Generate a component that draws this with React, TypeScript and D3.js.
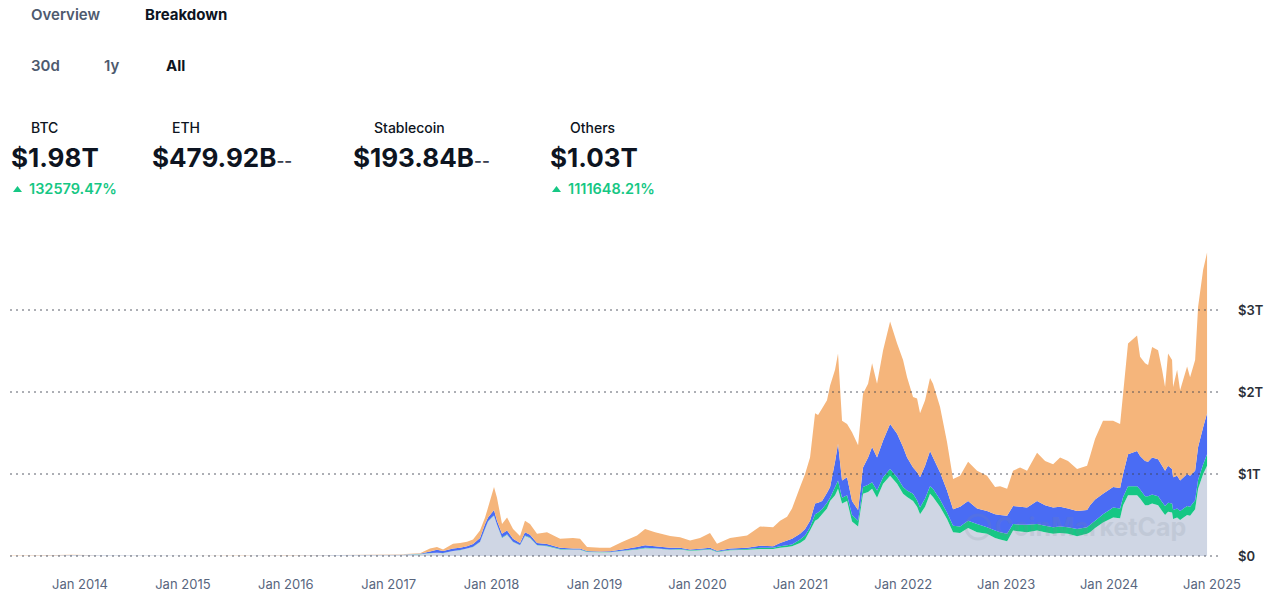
import React from 'react';
import * as d3 from 'd3';

// decimal years of each sample
const years = [
  2013.32, 2013.92, 2014.2, 2014.7, 2015.1, 2015.6, 2016.0, 2016.5, 2016.95,
  2017.110, 2017.304, 2017.401, 2017.469, 2017.528, 2017.625, 2017.693, 2017.761, 2017.819, 2017.887,
  2017.936, 2017.965, 2018.004, 2018.023, 2018.052, 2018.101, 2018.150, 2018.208, 2018.276, 2018.324,
  2018.373, 2018.441, 2018.538, 2018.665, 2018.791, 2018.859, 2018.927, 2019.053, 2019.151, 2019.267,
  2019.413, 2019.491, 2019.588, 2019.734, 2019.831, 2019.928, 2020.025, 2020.122, 2020.190, 2020.317,
  2020.482, 2020.608, 2020.735, 2020.803, 2020.871, 2020.919, 2020.997, 2021.046, 2021.094, 2021.143,
  2021.172, 2021.211, 2021.259, 2021.289, 2021.337, 2021.366, 2021.405, 2021.454, 2021.502, 2021.561,
  2021.609, 2021.658, 2021.697, 2021.745, 2021.804, 2021.872, 2021.940, 2021.998, 2022.037, 2022.095,
  2022.134, 2022.163, 2022.212, 2022.260, 2022.289, 2022.357, 2022.425, 2022.484, 2022.552, 2022.630,
  2022.717, 2022.814, 2022.892, 2022.941, 2023.009, 2023.067, 2023.135, 2023.203, 2023.300, 2023.378,
  2023.456, 2023.524, 2023.601, 2023.689, 2023.786, 2023.815, 2023.864, 2023.941, 2024.039, 2024.107,
  2024.136, 2024.184, 2024.272, 2024.301, 2024.350, 2024.379, 2024.418, 2024.476, 2024.515, 2024.544,
  2024.573, 2024.612, 2024.622, 2024.661, 2024.690, 2024.758, 2024.787, 2024.836, 2024.865, 2024.914,
  2024.952,
];

// values in trillions of USD
const btc = [
  0.0015, 0.013, 0.008, 0.006, 0.003, 0.004, 0.0066, 0.011, 0.0155,
  0.017, 0.022, 0.035, 0.04, 0.035, 0.06, 0.07, 0.09, 0.11, 0.17,
  0.33, 0.42, 0.47, 0.49, 0.38, 0.22, 0.26, 0.17, 0.13, 0.245,
  0.22, 0.13, 0.12, 0.08, 0.075, 0.075, 0.05, 0.045, 0.045, 0.06,
  0.08, 0.095, 0.09, 0.075, 0.08, 0.065, 0.07, 0.08, 0.05, 0.07,
  0.075, 0.085, 0.085, 0.1, 0.11, 0.12, 0.16, 0.2, 0.31, 0.43,
  0.45, 0.51, 0.58, 0.67, 0.74, 0.82, 0.64, 0.67, 0.42, 0.36,
  0.76, 0.78, 0.82, 0.71, 0.88, 0.98, 0.88, 0.76, 0.72, 0.67,
  0.6, 0.51, 0.6, 0.76, 0.72, 0.6, 0.45, 0.29, 0.28, 0.34,
  0.29, 0.27, 0.22, 0.2, 0.18, 0.31, 0.3, 0.29, 0.31, 0.29,
  0.27, 0.28, 0.27, 0.24, 0.27, 0.29, 0.34, 0.41, 0.47, 0.46,
  0.62, 0.74, 0.74, 0.7, 0.62, 0.62, 0.64, 0.62, 0.55, 0.5,
  0.54, 0.53, 0.45, 0.47, 0.44, 0.5, 0.49, 0.57, 0.82, 1.0,
  1.1,
];

const stablecoin = [
  0, 0, 0, 0, 0, 0, 0, 0, 0,
  0.001, 0.001, 0.001, 0.001, 0.001, 0.002, 0.002, 0.002, 0.002, 0.003,
  0.005, 0.005, 0.005, 0.005, 0.005, 0.005, 0.005, 0.005, 0.005, 0.005,
  0.005, 0.005, 0.005, 0.005, 0.005, 0.005, 0.005, 0.005, 0.005, 0.005,
  0.005, 0.005, 0.005, 0.005, 0.005, 0.005, 0.005, 0.006, 0.006, 0.007,
  0.01, 0.015, 0.015, 0.02, 0.02, 0.02, 0.04, 0.05, 0.04, 0.08,
  0.08, 0.06, 0.07, 0.04, 0.1, 0.1, 0.07, 0.07, 0.08, 0.07,
  0.08, 0.09, 0.08, 0.09, 0.08, 0.08, 0.08, 0.08, 0.08, 0.09,
  0.08, 0.08, 0.1, 0.09, 0.1, 0.09, 0.08, 0.08, 0.08, 0.09,
  0.1, 0.08, 0.09, 0.09, 0.09, 0.08, 0.08, 0.09, 0.08, 0.08,
  0.08, 0.08, 0.08, 0.09, 0.08, 0.09, 0.09, 0.1, 0.12, 0.12,
  0.1, 0.11, 0.11, 0.11, 0.11, 0.11, 0.11, 0.11, 0.11, 0.11,
  0.11, 0.11, 0.11, 0.11, 0.11, 0.11, 0.11, 0.11, 0.11, 0.12,
  0.14,
];

const eth = [
  0, 0, 0, 0, 0, 0.0003, 0.0007, 0.0015, 0.001,
  0.001, 0.005, 0.019, 0.034, 0.024, 0.028, 0.028, 0.028, 0.033, 0.047,
  0.055, 0.045, 0.055, 0.065, 0.045, 0.045, 0.045, 0.035, 0.025, 0.04,
  0.035, 0.025, 0.02, 0.015, 0.01, 0.01, 0.007, 0.005, 0.008, 0.015,
  0.025, 0.03, 0.025, 0.02, 0.015, 0.01, 0.013, 0.014, 0.009, 0.013,
  0.015, 0.025, 0.02, 0.04, 0.06, 0.07, 0.07, 0.08, 0.08, 0.13,
  0.12, 0.1, 0.12, 0.13, 0.31, 0.45, 0.21, 0.22, 0.17, 0.13,
  0.24, 0.33, 0.43, 0.4, 0.45, 0.55, 0.53, 0.49, 0.4, 0.32,
  0.34, 0.37, 0.4, 0.43, 0.38, 0.33, 0.27, 0.2, 0.24, 0.24,
  0.19, 0.2, 0.2, 0.21, 0.22, 0.22, 0.22, 0.21, 0.28, 0.25,
  0.24, 0.24, 0.23, 0.22, 0.21, 0.24, 0.26, 0.25, 0.25, 0.25,
  0.28, 0.39, 0.43, 0.41, 0.43, 0.42, 0.45, 0.45, 0.44, 0.43,
  0.45, 0.42, 0.4, 0.4, 0.37, 0.39, 0.38, 0.36, 0.4, 0.45,
  0.5,
];

const others = [
  0.0002, 0.002, 0.002, 0.0015, 0.001, 0.0007, 0.0005, 0.001, 0.001,
  0.003, 0.007, 0.035, 0.035, 0.02, 0.06, 0.06, 0.055, 0.055, 0.09,
  0.08, 0.12, 0.23, 0.28, 0.28, 0.12, 0.16, 0.12, 0.085, 0.14,
  0.13, 0.11, 0.145, 0.11, 0.13, 0.12, 0.048, 0.045, 0.042, 0.09,
  0.14, 0.2, 0.17, 0.145, 0.13, 0.11, 0.132, 0.18, 0.085, 0.13,
  0.15, 0.235, 0.23, 0.27, 0.29, 0.37, 0.57, 0.67, 0.77, 1.1,
  1.07, 1.13, 1.13, 1.24, 1.12, 1.1, 0.73, 0.65, 0.84, 0.79,
  0.9, 0.9, 1.02, 0.9, 1.1, 1.25, 1.1, 1.06, 0.98, 0.86,
  0.9, 0.78, 0.8, 0.89, 0.9, 0.8, 0.59, 0.37, 0.38, 0.48,
  0.46, 0.43, 0.33, 0.35, 0.33, 0.43, 0.48, 0.45, 0.59, 0.54,
  0.53, 0.6, 0.58, 0.51, 0.54, 0.6, 0.74, 0.89, 0.81, 0.78,
  0.98, 1.35, 1.41, 1.21, 1.19, 1.18, 1.35, 1.33, 1.17, 1.02,
  1.37, 1.33, 1.1, 1.29, 1.1, 1.31, 1.2, 1.35, 1.71, 1.92,
  1.96,
];

const xTickYears = [2014, 2015, 2016, 2017, 2018, 2019, 2020, 2021, 2022, 2023, 2024, 2025];
const yTicks = [0, 1, 2, 3];
const yTickLabels = ['$0', '$1T', '$2T', '$3T'];

const tabs = ['Overview', 'Breakdown'];
const ranges = ['30d', '1y', 'All'];
const statNames = ['BTC', 'ETH', 'Stablecoin', 'Others'];
const statValues = ['$1.98T', '$479.92B', '$193.84B', '$1.03T'];
const statSuffix = ['', '--', '--', ''];
const statChanges = ['132579.47%', '', '', '1111648.21%'];

const seriesKeys = ['btc', 'stablecoin', 'eth', 'others'];
const seriesColors = ['#cfd6e4', '#16c784', '#4a6cf4', '#f5b57b'];

const FONT = 'Inter, "Noto Sans", sans-serif';

export default function App() {
  const W = 1279;
  const H = 596;
  const x = d3.scaleLinear().domain([2014, 2025]).range([80, 1212]);
  const y = d3.scaleLinear().domain([0, 3]).range([556, 310]);

  const rows = years.map((t, i) => ({
    t,
    btc: btc[i],
    stablecoin: stablecoin[i],
    eth: eth[i],
    others: others[i],
  }));
  const stacked = d3.stack<any>().keys(seriesKeys)(rows);
  const area = d3
    .area<any>()
    .x((d: any) => x(d.data.t))
    .y0((d: any) => y(d[0]))
    .y1((d: any) => y(d[1]))
    .curve(d3.curveLinear);

  const statX = [31, 172, 374, 570];
  const valueX = [11, 152, 353, 550];
  const tabX = [31, 145];
  const rangeX = [31, 104, 166];

  return (
    <svg
      width={W}
      height={H}
      style={{ position: 'absolute', left: 0, top: 0, background: '#fff' }}
      fontFamily={FONT}
    >
      {tabs.map((t, i) => (
        <text
          key={t}
          x={tabX[i]}
          y={20}
          fontSize={15}
          fontWeight={i === 1 ? 700 : 600}
          fill={i === 1 ? '#0d1421' : '#4e5a6e'}
        >
          {t}
        </text>
      ))}
      {ranges.map((t, i) => (
        <text
          key={t}
          x={rangeX[i]}
          y={71}
          fontSize={15}
          fontWeight={i === 2 ? 700 : 600}
          fill={i === 2 ? '#0d1421' : '#4e5a6e'}
        >
          {t}
        </text>
      ))}
      {statNames.map((s, i) => (
        <g key={s}>
          <text x={statX[i]} y={133} fontSize={14} fontWeight={500} fill="#0d1421">
            {s}
          </text>
          <text x={valueX[i]} y={167} fontSize={26} fontWeight={700} fill="#0d1421">
            {statValues[i]}
            {statSuffix[i] && (
              <tspan fontSize={17} fontWeight={600} fill="#3a4150">
                {statSuffix[i]}
              </tspan>
            )}
          </text>
          {statChanges[i] && (
            <g>
              <path
                d={`M${valueX[i] + 2},192 L${valueX[i] + 6.5},186 L${valueX[i] + 11},192 Z`}
                fill="#16c784"
              />
              <text x={valueX[i] + 18} y={194} fontSize={14.5} fontWeight={600} fill="#16c784">
                {statChanges[i]}
              </text>
            </g>
          )}
        </g>
      ))}

      {stacked.map((s: any, i: number) => (
        <path key={seriesKeys[i]} d={area(s) || ''} fill={seriesColors[i]} />
      ))}

      {/* watermark */}
      <g opacity={0.16} fill="#7d879a">
        <circle cx={978} cy={527} r={12} fill="none" stroke="#7d879a" strokeWidth={3} />
        <text x={995} y={536} fontSize={25} fontWeight={700}>
          CoinMarketCap
        </text>
      </g>

      {yTicks.map((v, i) => (
        <g key={v}>
          <line
            x1={10}
            x2={1220}
            y1={y(v)}
            y2={y(v)}
            stroke="#3f4552"
            strokeWidth={1}
            strokeDasharray="2 4"
            opacity={0.85}
          />
          <text x={1238} y={y(v) + 5} fontSize={13} fontWeight={600} fill="#2b2f38">
            {yTickLabels[i]}
          </text>
        </g>
      ))}

      {xTickYears.map((yr) => (
        <text
          key={yr}
          x={x(yr)}
          y={589}
          fontSize={13}
          fill="#58667e"
          textAnchor="middle"
        >
          {`Jan ${yr}`}
        </text>
      ))}
    </svg>
  );
}
